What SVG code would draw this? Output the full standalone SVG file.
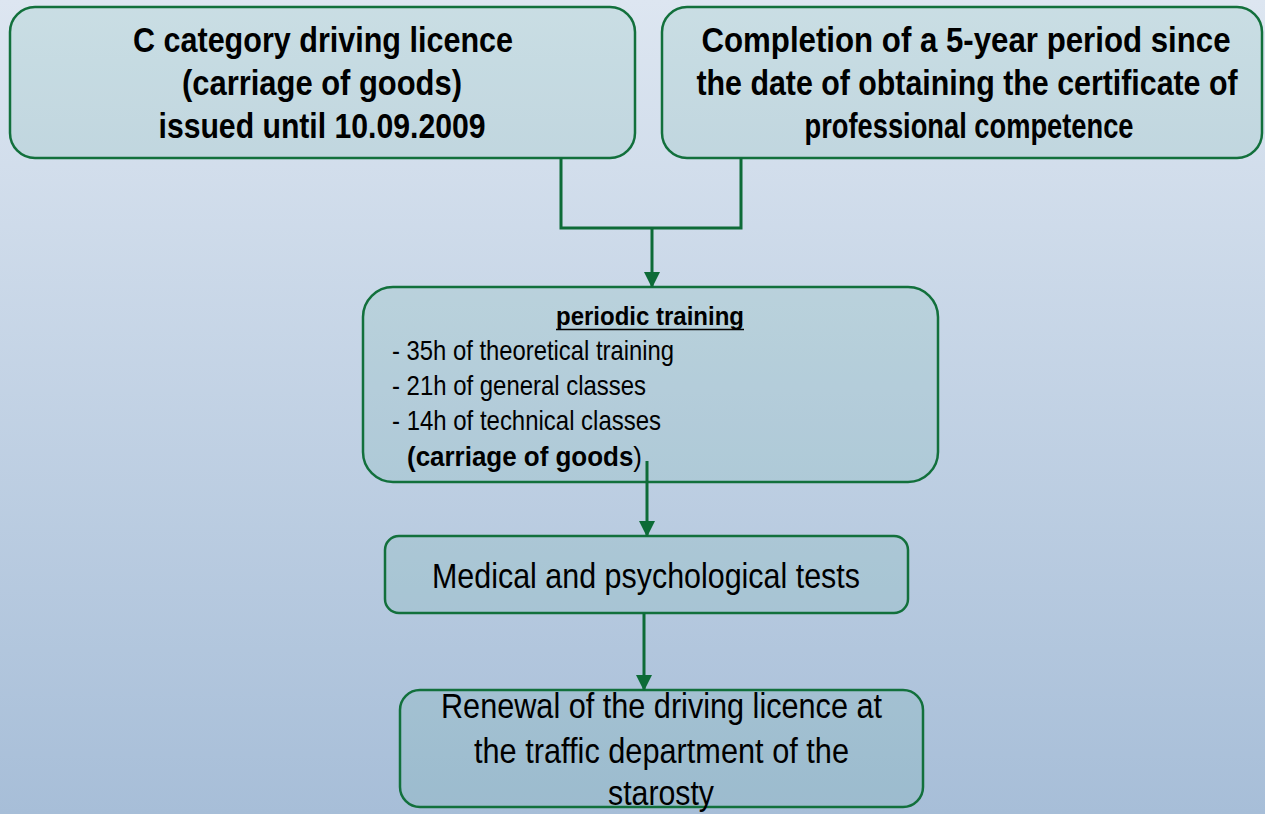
<svg xmlns="http://www.w3.org/2000/svg" width="1265" height="814" viewBox="0 0 1265 814">
<defs>
<linearGradient id="bg" x1="0" y1="0" x2="0" y2="1">
<stop offset="0" stop-color="#dde6f1"/>
<stop offset="1" stop-color="#a7bed8"/>
</linearGradient>
<marker id="arr" viewBox="0 0 16 16" refX="15" refY="8" markerWidth="16" markerHeight="16" markerUnits="userSpaceOnUse" orient="auto">
<path d="M0,0 L16,8 L0,16 z" fill="#0d6b37"/>
</marker>
<style>
.box{fill:#5fad97;fill-opacity:0.15;stroke:#12703c;stroke-width:2.5}
.t{font-family:"Liberation Sans",Arial,sans-serif;fill:#000}
.b{font-weight:bold}
.c{text-anchor:middle}
.conn{fill:none;stroke:#0d6b37;stroke-width:3}
</style>
</defs>
<rect width="1265" height="814" fill="url(#bg)"/>
<g id="node-licence">
<rect class="box" x="10" y="7" width="625" height="151" rx="25"/>
<text class="t b c" font-size="35" x="323" y="52" textLength="380" lengthAdjust="spacingAndGlyphs">C category driving licence</text>
<text class="t b c" font-size="35" x="322" y="95" textLength="280" lengthAdjust="spacingAndGlyphs">(carriage of goods)</text>
<text class="t b c" font-size="35" x="322" y="138" textLength="327" lengthAdjust="spacingAndGlyphs">issued until 10.09.2009</text>
</g>
<g id="node-period">
<rect class="box" x="662" y="7" width="600" height="151" rx="25"/>
<text class="t b c" font-size="35" transform="translate(966,52) scale(0.892,1)" x="0" y="0">Completion of a 5-year period since</text>
<text class="t b c" font-size="35" transform="translate(967,95) scale(0.867,1)" x="0" y="0">the date of obtaining the certificate of</text>
<text class="t b c" font-size="35" x="969" y="138" textLength="329" lengthAdjust="spacingAndGlyphs">professional competence</text>
</g>
<g id="node-training">
<rect class="box" x="363" y="287" width="575" height="195" rx="30"/>
<text class="t b c" font-size="25" x="650" y="325" textLength="188" lengthAdjust="spacingAndGlyphs">periodic training</text>
<line x1="556" y1="329.5" x2="744" y2="329.5" stroke="#000" stroke-width="1.5"/>
<text class="t" font-size="28" x="392" y="360" textLength="282" lengthAdjust="spacingAndGlyphs">- 35h of theoretical training</text>
<text class="t" font-size="28" x="392" y="395" textLength="254" lengthAdjust="spacingAndGlyphs">- 21h of general classes</text>
<text class="t" font-size="28" x="392" y="430" textLength="269" lengthAdjust="spacingAndGlyphs">- 14h of technical classes</text>
<text class="t" font-size="28" transform="translate(407,466) scale(0.927,1)" x="0" y="0"><tspan font-weight="bold">(carriage of goods</tspan>)</text>
</g>
<g id="node-medical">
<rect class="box" x="385" y="536" width="523" height="77" rx="14"/>
<text class="t c" font-size="35" x="646" y="588" textLength="428" lengthAdjust="spacingAndGlyphs">Medical and psychological tests</text>
</g>
<g id="node-renewal">
<rect class="box" x="400" y="690" width="523" height="117" rx="20"/>
<text class="t c" font-size="35" x="661.5" y="718" textLength="441" lengthAdjust="spacingAndGlyphs">Renewal of the driving licence at</text>
<text class="t c" font-size="35" x="661.5" y="763" textLength="375" lengthAdjust="spacingAndGlyphs">the traffic department of the</text>
<text class="t c" font-size="35" x="661" y="805" textLength="106" lengthAdjust="spacingAndGlyphs">starosty</text>
</g>
<g id="connectors">
<path class="conn" d="M561 158 V228 H741 V158"/>
<path class="conn" d="M652 228 V287" marker-end="url(#arr)"/>
<path class="conn" d="M647 461 V536" marker-end="url(#arr)"/>
<path class="conn" d="M644 613 V690" marker-end="url(#arr)"/>
</g>
</svg>
